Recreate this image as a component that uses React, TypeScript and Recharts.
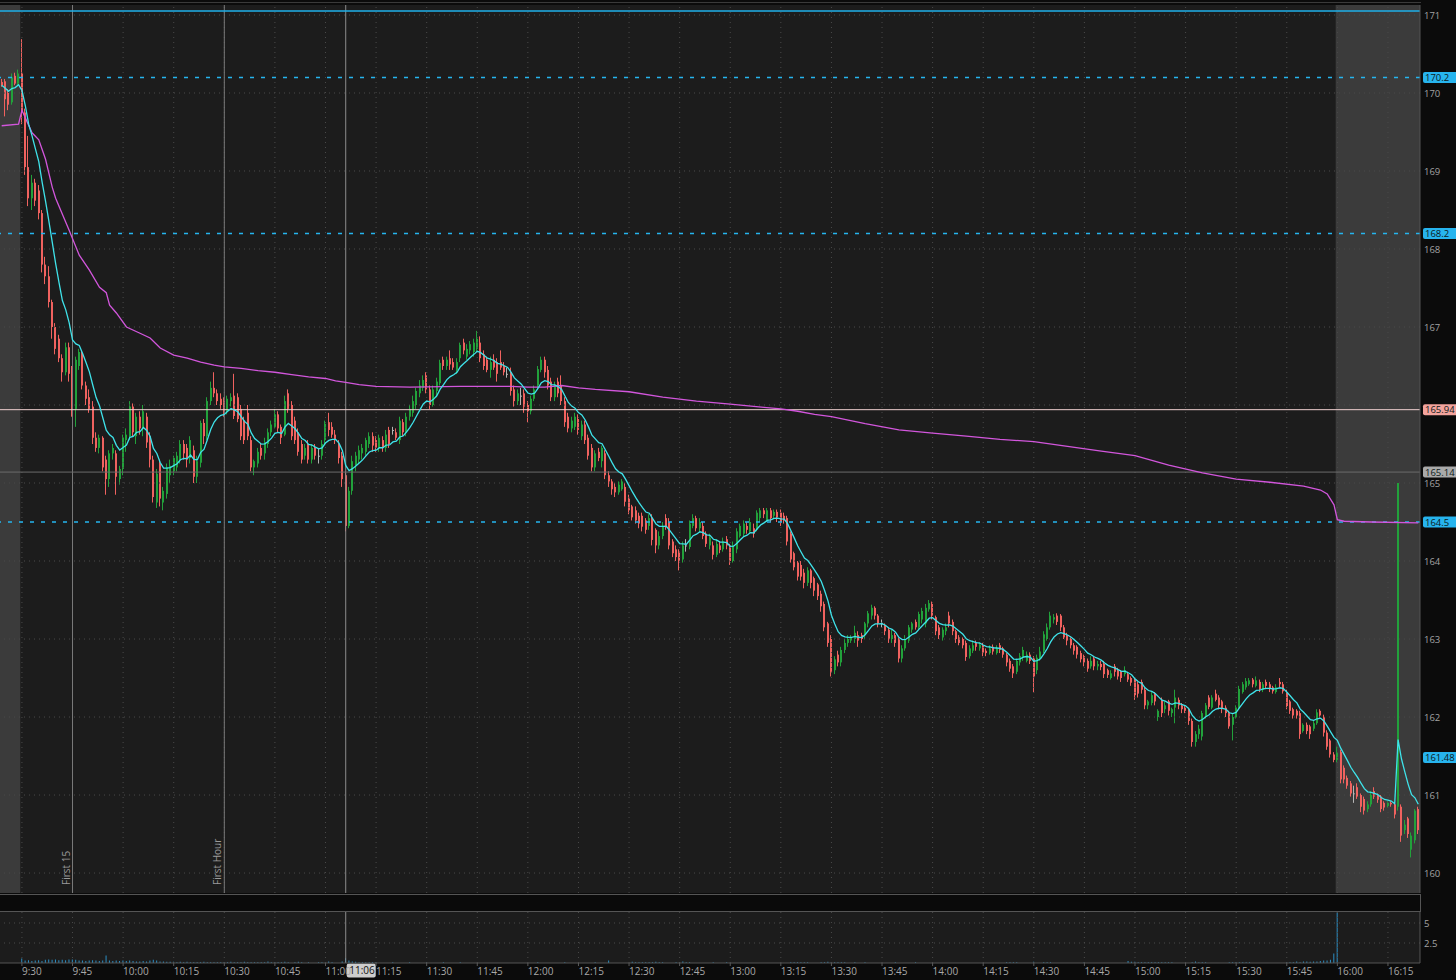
import React from 'react';
import {
  ComposedChart,
  Bar,
  Line,
  XAxis,
  YAxis,
  CartesianGrid,
  ReferenceLine,
  ReferenceArea,
} from 'recharts';

type Candle = [number, number, number, number]; // open, high, low, close

// 9:24 - 9:29 (pre-market)
const pre0924: Candle[] = [
  [170.14, 170.18, 170.08, 170.1], [170.15, 170.18, 169.7, 169.92], [170.0, 170.05, 169.78, 169.85],
  [169.88, 170.25, 169.85, 170.2], [170.22, 170.26, 170.1, 170.12], [170.12, 170.3, 170.1, 170.25],
];

// 9:30 - 10:29
const c0930: Candle[] = [
  [170.25, 170.69, 169.6, 169.75], [169.75, 169.8, 168.95, 169.05], [169.05, 169.45, 168.55, 168.65],
  [168.65, 168.95, 168.5, 168.85], [168.85, 168.9, 168.55, 168.62], [168.75, 168.82, 168.38, 168.46],
  [168.46, 168.5, 167.7, 167.8], [167.8, 167.9, 167.55, 167.65], [167.65, 167.78, 167.25, 167.32],
  [167.32, 167.35, 166.85, 167.0], [167.0, 167.05, 166.65, 166.72], [166.85, 166.9, 166.55, 166.6],
  [166.6, 166.65, 166.3, 166.42], [166.42, 166.8, 166.38, 166.74], [166.74, 166.8, 166.3, 166.4],
  [166.4, 166.5, 165.85, 165.95], [165.95, 166.62, 165.72, 166.58], [166.5, 166.72, 166.45, 166.68],
  [166.66, 166.7, 166.2, 166.25], [166.25, 166.3, 166.0, 166.08], [166.1, 166.2, 165.9, 165.95],
  [165.98, 166.05, 165.5, 165.58], [165.58, 165.65, 165.4, 165.45], [165.45, 165.62, 165.38, 165.58],
  [165.58, 165.6, 165.15, 165.2], [165.3, 165.35, 164.85, 165.05], [165.05, 165.42, 164.95, 165.38],
  [165.38, 165.5, 165.3, 165.45], [165.38, 165.42, 164.85, 165.08], [165.05, 165.22, 164.98, 165.18],
  [165.18, 165.62, 165.1, 165.58], [165.55, 165.7, 165.4, 165.62], [165.6, 166.05, 165.55, 165.98],
  [165.98, 166.02, 165.6, 165.65], [165.6, 165.9, 165.5, 165.85], [165.85, 165.92, 165.62, 165.7],
  [165.7, 166.0, 165.6, 165.92], [165.85, 165.9, 165.45, 165.52], [165.6, 165.65, 165.2, 165.3],
  [165.3, 165.35, 164.75, 164.82], [164.75, 165.18, 164.68, 165.12], [165.25, 165.3, 164.7, 164.8],
  [164.75, 164.95, 164.65, 164.9], [164.86, 165.25, 164.8, 165.2], [165.1, 165.3, 165.0, 165.22],
  [165.15, 165.35, 165.1, 165.32], [165.2, 165.4, 165.15, 165.35], [165.3, 165.55, 165.25, 165.5],
  [165.5, 165.55, 165.3, 165.38], [165.45, 165.5, 165.2, 165.3], [165.32, 165.6, 165.25, 165.55],
  [165.42, 165.48, 165.0, 165.08], [165.08, 165.35, 165.0, 165.28], [165.26, 165.8, 165.2, 165.77],
  [165.77, 165.82, 165.5, 165.6], [165.6, 166.1, 165.55, 166.05], [166.05, 166.3, 166.0, 166.22],
  [166.22, 166.42, 166.1, 166.15], [166.15, 166.2, 166.0, 166.05], [166.08, 166.15, 165.95, 166.0],
];

// 10:30 - 11:29
const c1030: Candle[] = [
  [166.05, 166.1, 165.85, 165.92], [165.92, 166.12, 165.88, 166.08], [166.05, 166.15, 165.98, 166.1],
  [166.12, 166.4, 165.82, 165.86], [166.1, 166.15, 165.78, 165.82], [165.95, 166.0, 165.55, 165.6],
  [165.8, 165.85, 165.5, 165.55], [165.9, 166.0, 165.55, 165.6], [165.55, 165.6, 165.15, 165.2],
  [165.2, 165.3, 165.1, 165.28], [165.25, 165.45, 165.2, 165.4], [165.45, 165.5, 165.3, 165.35],
  [165.38, 165.58, 165.3, 165.52], [165.5, 165.7, 165.45, 165.65], [165.65, 165.8, 165.6, 165.75],
  [165.72, 165.95, 165.7, 165.88], [165.88, 165.92, 165.65, 165.7], [165.72, 165.75, 165.5, 165.58],
  [165.62, 166.12, 165.6, 166.05], [166.15, 166.2, 165.9, 165.95], [166.0, 166.05, 165.55, 165.6],
  [165.8, 165.85, 165.5, 165.55], [165.65, 165.7, 165.35, 165.4], [165.5, 165.55, 165.25, 165.3],
  [165.35, 165.5, 165.3, 165.45], [165.5, 165.55, 165.25, 165.3], [165.3, 165.5, 165.25, 165.45],
  [165.45, 165.5, 165.3, 165.35], [165.35, 165.45, 165.25, 165.35], [165.35, 165.55, 165.3, 165.5],
  [165.55, 165.8, 165.5, 165.76], [165.78, 165.9, 165.6, 165.68], [165.72, 165.78, 165.58, 165.62],
  [165.62, 165.68, 165.5, 165.55], [165.5, 165.55, 165.25, 165.32], [165.35, 165.4, 164.95, 165.05],
  [165.1, 165.15, 164.38, 164.45], [164.45, 164.95, 164.42, 164.9], [164.9, 165.35, 164.85, 165.28],
  [165.22, 165.4, 165.15, 165.35], [165.3, 165.48, 165.25, 165.42], [165.38, 165.5, 165.3, 165.45],
  [165.4, 165.58, 165.35, 165.55], [165.5, 165.65, 165.45, 165.6], [165.6, 165.65, 165.4, 165.48],
  [165.55, 165.6, 165.4, 165.45], [165.45, 165.62, 165.4, 165.58], [165.55, 165.6, 165.4, 165.45],
  [165.45, 165.68, 165.4, 165.62], [165.68, 165.72, 165.45, 165.5], [165.68, 165.72, 165.62, 165.68],
  [165.65, 165.7, 165.55, 165.58], [165.55, 165.85, 165.5, 165.8], [165.78, 165.82, 165.6, 165.65],
  [165.65, 165.9, 165.6, 165.85], [165.85, 166.0, 165.8, 165.95], [165.9, 166.12, 165.85, 166.05],
  [166.0, 166.22, 165.95, 166.18], [166.15, 166.32, 166.1, 166.25], [166.22, 166.38, 166.18, 166.32],
];

// 11:30 - 12:29
const c1130: Candle[] = [
  [166.38, 166.42, 166.15, 166.2], [166.2, 166.25, 165.95, 166.0], [166.0, 166.25, 165.98, 166.2],
  [166.18, 166.35, 166.1, 166.3], [166.28, 166.58, 166.25, 166.54], [166.58, 166.62, 166.45, 166.5],
  [166.5, 166.62, 166.45, 166.58], [166.6, 166.7, 166.45, 166.52], [166.55, 166.6, 166.45, 166.48],
  [166.45, 166.6, 166.4, 166.55], [166.6, 166.8, 166.55, 166.77], [166.8, 166.85, 166.65, 166.7],
  [166.62, 166.78, 166.58, 166.72], [166.7, 166.82, 166.65, 166.78], [166.68, 166.85, 166.62, 166.8],
  [166.72, 166.95, 166.68, 166.85], [166.8, 166.88, 166.55, 166.6], [166.65, 166.7, 166.45, 166.5],
  [166.58, 166.62, 166.42, 166.45], [166.45, 166.62, 166.35, 166.55], [166.58, 166.65, 166.45, 166.48],
  [166.55, 166.6, 166.3, 166.4], [166.55, 166.7, 166.45, 166.48], [166.5, 166.55, 166.38, 166.42],
  [166.4, 166.48, 166.35, 166.4], [166.42, 166.48, 166.12, 166.18], [166.2, 166.25, 165.98, 166.05],
  [166.05, 166.2, 166.0, 166.15], [166.12, 166.22, 166.0, 166.12], [166.15, 166.2, 165.9, 165.98],
  [166.0, 166.05, 165.78, 165.92], [165.92, 166.12, 165.88, 166.08], [166.08, 166.25, 166.05, 166.2],
  [166.25, 166.5, 166.2, 166.46], [166.45, 166.62, 166.42, 166.58], [166.58, 166.62, 166.35, 166.42],
  [166.45, 166.5, 166.2, 166.25], [166.3, 166.35, 166.05, 166.1], [166.1, 166.3, 166.05, 166.25],
  [166.3, 166.35, 166.1, 166.15], [166.25, 166.38, 166.0, 166.05], [166.05, 166.1, 165.72, 165.78],
  [165.85, 165.9, 165.65, 165.7], [165.7, 165.85, 165.65, 165.8], [165.72, 165.9, 165.68, 165.85],
  [165.82, 165.88, 165.62, 165.68], [165.6, 165.8, 165.55, 165.75], [165.75, 165.8, 165.5, 165.55],
  [165.58, 165.62, 165.3, 165.35], [165.45, 165.5, 165.15, 165.2], [165.2, 165.42, 165.15, 165.38],
  [165.4, 165.45, 165.28, 165.32], [165.28, 165.48, 165.2, 165.45], [165.38, 165.42, 165.05, 165.1],
  [165.1, 165.15, 164.95, 165.02], [165.02, 165.05, 164.85, 164.92], [164.95, 165.0, 164.82, 164.88],
  [164.88, 165.02, 164.85, 164.98], [164.92, 165.05, 164.9, 165.02], [164.95, 165.0, 164.7, 164.76],
];

// 12:30 - 13:29
const c1230: Candle[] = [
  [164.8, 164.85, 164.6, 164.65], [164.7, 164.72, 164.52, 164.56], [164.65, 164.7, 164.48, 164.52],
  [164.58, 164.62, 164.42, 164.48], [164.58, 164.62, 164.38, 164.44], [164.52, 164.55, 164.35, 164.4],
  [164.45, 164.6, 164.4, 164.55], [164.55, 164.6, 164.2, 164.27], [164.4, 164.42, 164.1, 164.2],
  [164.2, 164.38, 164.15, 164.32], [164.32, 164.5, 164.28, 164.45], [164.55, 164.6, 164.4, 164.45],
  [164.5, 164.55, 164.15, 164.2], [164.25, 164.28, 164.05, 164.1], [164.15, 164.2, 164.0, 164.05],
  [164.12, 164.15, 163.88, 164.0], [164.02, 164.25, 163.98, 164.2], [164.2, 164.28, 164.12, 164.2],
  [164.18, 164.52, 164.15, 164.48], [164.45, 164.6, 164.42, 164.55], [164.55, 164.58, 164.38, 164.42],
  [164.42, 164.55, 164.38, 164.5], [164.45, 164.5, 164.28, 164.32], [164.35, 164.38, 164.18, 164.22],
  [164.2, 164.35, 164.15, 164.3], [164.2, 164.25, 164.02, 164.08], [164.08, 164.28, 164.05, 164.22],
  [164.2, 164.25, 164.1, 164.14], [164.15, 164.3, 164.12, 164.25], [164.28, 164.32, 164.15, 164.2],
  [164.2, 164.22, 163.95, 164.0], [164.0, 164.25, 163.98, 164.2], [164.15, 164.42, 164.1, 164.38],
  [164.32, 164.48, 164.3, 164.45], [164.35, 164.52, 164.32, 164.48], [164.45, 164.5, 164.35, 164.4],
  [164.38, 164.55, 164.35, 164.5], [164.42, 164.48, 164.3, 164.35], [164.4, 164.65, 164.38, 164.62],
  [164.55, 164.68, 164.5, 164.65], [164.65, 164.68, 164.55, 164.6], [164.52, 164.68, 164.5, 164.65],
  [164.65, 164.68, 164.5, 164.55], [164.58, 164.66, 164.55, 164.63], [164.63, 164.66, 164.5, 164.56],
  [164.62, 164.66, 164.45, 164.5], [164.58, 164.62, 164.48, 164.52], [164.55, 164.58, 164.2, 164.25],
  [164.35, 164.38, 163.98, 164.02], [164.1, 164.12, 163.88, 163.92], [163.98, 164.0, 163.75, 163.8],
  [163.95, 164.0, 163.75, 163.8], [163.85, 163.9, 163.65, 163.72], [163.72, 163.92, 163.68, 163.88],
  [163.88, 163.9, 163.65, 163.72], [163.78, 163.8, 163.55, 163.62], [163.7, 163.72, 163.5, 163.55],
  [163.58, 163.62, 163.35, 163.42], [163.45, 163.48, 163.1, 163.15], [163.2, 163.22, 162.9, 162.95],
];

// 13:30 - 14:29
const c1330: Candle[] = [
  [163.0, 163.05, 162.52, 162.58], [162.6, 162.78, 162.55, 162.74], [162.8, 162.85, 162.65, 162.7],
  [162.7, 162.9, 162.65, 162.86], [162.86, 163.0, 162.82, 162.95], [162.95, 163.05, 162.9, 163.0],
  [162.98, 163.05, 162.95, 163.02], [163.0, 163.17, 162.95, 163.08], [163.05, 163.1, 162.9, 162.98],
  [163.05, 163.08, 162.95, 163.0], [163.05, 163.22, 163.0, 163.2], [163.2, 163.36, 163.15, 163.33],
  [163.3, 163.44, 163.25, 163.4], [163.4, 163.42, 163.25, 163.3], [163.3, 163.32, 163.15, 163.2],
  [163.2, 163.25, 163.15, 163.2], [163.18, 163.2, 163.05, 163.1], [163.12, 163.15, 162.95, 163.0],
  [163.0, 163.12, 162.95, 163.05], [163.05, 163.08, 162.9, 162.95], [163.0, 163.02, 162.7, 162.75],
  [162.75, 162.92, 162.7, 162.88], [162.88, 163.05, 162.85, 163.0], [162.98, 163.18, 162.95, 163.15],
  [163.12, 163.22, 163.08, 163.2], [163.22, 163.25, 163.12, 163.15], [163.15, 163.35, 163.12, 163.32],
  [163.25, 163.4, 163.2, 163.36], [163.2, 163.45, 163.15, 163.4], [163.38, 163.5, 163.35, 163.46],
  [163.45, 163.48, 163.25, 163.3], [163.28, 163.3, 163.05, 163.1], [163.15, 163.18, 163.0, 163.05],
  [163.02, 163.15, 162.98, 163.12], [163.1, 163.2, 163.05, 163.15], [163.3, 163.35, 163.15, 163.2],
  [163.22, 163.25, 163.05, 163.1], [163.1, 163.12, 162.95, 163.0], [163.02, 163.05, 162.92, 162.95],
  [163.0, 163.02, 162.88, 162.92], [162.95, 162.98, 162.72, 162.77], [162.78, 162.92, 162.75, 162.88],
  [162.85, 162.98, 162.82, 162.92], [162.95, 162.98, 162.85, 162.9], [162.88, 162.96, 162.85, 162.93],
  [162.92, 162.95, 162.78, 162.82], [162.85, 162.88, 162.78, 162.82], [162.82, 162.92, 162.8, 162.88],
  [162.9, 162.93, 162.8, 162.84], [162.82, 162.92, 162.8, 162.88], [162.92, 162.95, 162.82, 162.86],
  [162.88, 162.9, 162.76, 162.8], [162.8, 162.82, 162.65, 162.7], [162.72, 162.75, 162.58, 162.62],
  [162.65, 162.68, 162.5, 162.56], [162.58, 162.75, 162.55, 162.72], [162.7, 162.82, 162.66, 162.78],
  [162.76, 162.9, 162.72, 162.86], [162.72, 162.84, 162.7, 162.8], [162.8, 162.83, 162.68, 162.72],
];

// 14:30 - 15:29
const c1430: Candle[] = [
  [162.75, 162.78, 162.32, 162.52], [162.6, 162.8, 162.55, 162.76], [162.75, 162.9, 162.72, 162.84],
  [162.85, 163.1, 162.82, 163.06], [163.0, 163.2, 162.98, 163.15], [163.15, 163.35, 163.12, 163.3],
  [163.25, 163.32, 163.2, 163.28], [163.3, 163.33, 163.18, 163.22], [163.3, 163.32, 163.1, 163.15],
  [163.15, 163.18, 163.0, 163.02], [163.05, 163.08, 162.92, 162.98], [163.0, 163.02, 162.88, 162.92],
  [162.92, 162.95, 162.8, 162.85], [162.9, 162.92, 162.75, 162.8], [162.82, 162.85, 162.7, 162.74],
  [162.78, 162.8, 162.65, 162.7], [162.72, 162.75, 162.58, 162.62], [162.65, 162.78, 162.62, 162.72],
  [162.75, 162.78, 162.6, 162.65], [162.65, 162.72, 162.6, 162.68], [162.68, 162.72, 162.6, 162.64],
  [162.68, 162.72, 162.5, 162.55], [162.6, 162.62, 162.5, 162.54], [162.5, 162.6, 162.48, 162.56],
  [162.65, 162.68, 162.52, 162.58], [162.6, 162.63, 162.48, 162.52], [162.58, 162.6, 162.45, 162.5],
  [162.55, 162.65, 162.52, 162.6], [162.55, 162.58, 162.45, 162.48], [162.5, 162.52, 162.4, 162.44],
  [162.48, 162.5, 162.22, 162.28], [162.42, 162.45, 162.25, 162.3], [162.45, 162.48, 162.3, 162.35],
  [162.35, 162.38, 162.1, 162.15], [162.15, 162.22, 162.1, 162.2], [162.18, 162.32, 162.15, 162.28],
  [162.3, 162.32, 162.15, 162.2], [162.0, 162.1, 161.95, 162.08], [162.22, 162.25, 162.0, 162.05],
  [162.1, 162.2, 162.05, 162.15], [162.2, 162.22, 162.02, 162.08], [162.05, 162.12, 162.0, 162.1],
  [162.12, 162.35, 161.92, 162.25], [162.22, 162.25, 162.1, 162.15], [162.15, 162.18, 162.05, 162.1],
  [162.12, 162.14, 162.05, 162.08], [162.1, 162.12, 161.9, 161.95], [161.95, 161.98, 161.62, 161.68],
  [161.68, 161.82, 161.62, 161.78], [161.78, 161.9, 161.72, 161.85], [161.75, 162.08, 161.7, 162.05],
  [162.0, 162.18, 161.98, 162.15], [162.25, 162.28, 162.1, 162.13], [162.12, 162.28, 162.1, 162.25],
  [162.3, 162.35, 162.2, 162.22], [162.25, 162.28, 162.1, 162.15], [162.2, 162.22, 162.05, 162.1],
  [162.12, 162.15, 162.0, 162.05], [162.05, 162.08, 161.85, 161.88], [161.9, 162.05, 161.7, 162.0],
];

// 15:30 - 16:24 (after-hours from 16:00)
const c1530: Candle[] = [
  [162.0, 162.15, 161.98, 162.12], [162.12, 162.4, 162.1, 162.36], [162.32, 162.45, 162.3, 162.42],
  [162.38, 162.5, 162.35, 162.46], [162.42, 162.5, 162.4, 162.47], [162.48, 162.5, 162.38, 162.42],
  [162.4, 162.52, 162.38, 162.47], [162.45, 162.48, 162.32, 162.36], [162.35, 162.45, 162.32, 162.42],
  [162.45, 162.48, 162.36, 162.4], [162.42, 162.45, 162.32, 162.36], [162.38, 162.4, 162.3, 162.33],
  [162.32, 162.42, 162.3, 162.38], [162.45, 162.5, 162.38, 162.42], [162.42, 162.45, 162.3, 162.33],
  [162.32, 162.35, 162.1, 162.14], [162.2, 162.22, 162.04, 162.08], [162.1, 162.12, 161.98, 162.02],
  [162.08, 162.1, 161.98, 162.02], [162.05, 162.08, 161.72, 161.78], [161.82, 161.92, 161.8, 161.9],
  [161.9, 161.93, 161.78, 161.82], [161.88, 161.9, 161.72, 161.78], [161.85, 161.96, 161.82, 161.92],
  [161.92, 162.1, 161.9, 162.06], [162.08, 162.1, 161.98, 162.02], [162.0, 162.03, 161.75, 161.8],
  [161.8, 161.83, 161.58, 161.62], [161.7, 161.72, 161.48, 161.52], [161.52, 161.55, 161.42, 161.45],
  [161.45, 161.62, 161.42, 161.55], [161.55, 161.58, 161.15, 161.2], [161.35, 161.38, 161.15, 161.2],
  [161.22, 161.25, 161.08, 161.12], [161.15, 161.18, 160.98, 161.02], [161.02, 161.12, 160.9, 161.02],
  [161.1, 161.15, 160.95, 160.98], [161.0, 161.02, 160.78, 160.85], [160.95, 160.98, 160.75, 160.8],
  [160.82, 160.92, 160.78, 160.88], [160.88, 161.05, 160.85, 161.0], [161.05, 161.1, 160.95, 160.98],
  [161.0, 161.02, 160.9, 160.94], [160.98, 161.0, 160.78, 160.82], [160.9, 160.92, 160.8, 160.84],
  [160.86, 160.92, 160.84, 160.9], [160.9, 160.92, 160.85, 160.88], [160.88, 160.9, 160.7, 160.75],
  [160.85, 165.0, 160.8, 165.0], [160.85, 160.88, 160.4, 160.48], [160.55, 160.68, 160.5, 160.62],
  [160.7, 160.72, 160.45, 160.5], [160.3, 160.52, 160.2, 160.48], [160.42, 160.82, 160.38, 160.8],
  [160.82, 160.85, 160.5, 160.55],
];

// volume per minute (same blocks as the candles)
const v0924 = [0, 0, 0, 0, 0, 0];
const v0930 = [
  0.55, 0.3, 0.35, 0.25, 0.3, 0.35, 0.25, 0.4, 0.45, 0.4, 0.45, 0.35, 0.4, 0.35, 0.45,
  0.45, 0.4, 0.3, 0.3, 0.25, 0.3, 0.35, 0.3, 0.25, 0.3, 0.95, 0.3, 0.25, 0.3, 0.25,
  0.3, 0.25, 0.3, 0.25, 0.2, 0.2, 0.25, 0.2, 0.3, 0.4, 0.3, 0.2, 0.2, 0.15, 0.15,
  0.15, 0.1, 0.15, 0.1, 0.15, 0.1, 0.1, 0.1, 0.1, 0.15, 0.1, 0.1, 0.1, 0.1, 0.1,
];
const v1030 = [
  0.1, 0.1, 0.15, 0.1, 0.1, 0.1, 0.15, 0.1, 0.1, 0.1, 0.1, 0.1, 0.1, 0.2, 0.1,
  0.1, 0.1, 0.1, 0.15, 0.1, 0, 0.1, 0.15, 0.1, 0, 0.1, 0, 0, 0.1, 0.1,
  0, 0.2, 0.1, 0, 0, 0.2, 0.6, 0.3, 0.2, 0.15, 0.1, 0.1, 0.1, 0.1, 0.1,
  0.1, 0, 0, 0, 0, 0.1, 0, 0, 0, 0, 0.1, 0, 0, 0, 0,
];
const v1130 = [
  0.1, 0, 0, 0, 0, 0.1, 0, 0, 0, 0, 0.1, 0, 0, 0, 0,
  0, 0, 0, 0, 0, 0, 0, 0, 0, 0, 0, 0, 0, 0, 0,
  0, 0, 0, 0.1, 0, 0, 0, 0, 0, 0, 0, 0.1, 0, 0, 0,
  0, 0, 0, 0, 0, 0.1, 0, 0, 0, 0.3, 0, 0, 0, 0, 0,
];
const v1230 = [
  0, 0.15, 0.1, 0.1, 0.1, 0.1, 0.1, 0.1, 0.15, 0.1, 0.1, 0, 0, 0, 0.1,
  0.1, 0.2, 0.1, 0.1, 0, 0, 0, 0, 0, 0, 0.1, 0, 0, 0, 0.1,
  0, 0, 0, 0, 0, 0, 0, 0, 0, 0, 0, 0, 0, 0, 0,
  0, 0, 0, 0.1, 0.1, 0.1, 0.1, 0.1, 0.1, 0, 0, 0, 0.1, 0.1, 0.15,
];
const v1330 = [
  0.1, 0.1, 0.1, 0.1, 0.1, 0, 0, 0.1, 0, 0, 0.1, 0, 0, 0, 0,
  0, 0, 0, 0, 0.1, 0, 0, 0, 0, 0, 0.1, 0, 0, 0, 0,
  0, 0, 0, 0, 0, 0, 0, 0, 0, 0, 0, 0, 0, 0, 0,
  0, 0, 0, 0, 0, 0, 0, 0.1, 0.1, 0.1, 0.1, 0, 0, 0, 0,
];
const v1430 = [
  0.15, 0, 0, 0.1, 0.1, 0.1, 0, 0, 0, 0, 0, 0, 0, 0, 0,
  0.1, 0, 0, 0, 0, 0, 0, 0, 0, 0, 0, 0, 0, 0.25, 0.15,
  0.15, 0.1, 0.1, 0.1, 0.1, 0.1, 0.1, 0.1, 0.1, 0.1, 0.1, 0.1, 0, 0, 0,
  0, 0, 0.1, 0.2, 0.1, 0.1, 0.1, 0, 0, 0, 0, 0, 0, 0.1, 0.1,
];
const v1530 = [
  0.1, 0.1, 0.1, 0.1, 0.1, 0, 0, 0, 0, 0, 0, 0, 0, 0, 0,
  0.1, 0.1, 0.1, 0.2, 0.1, 0.2, 0.2, 0.15, 0.2, 0.2, 0.25, 0.3, 0.3, 0.4, 1.2,
  6.3, 0, 0, 0, 0, 0, 0, 0, 0, 0, 0, 0, 0, 0, 0,
  0, 0, 0, 0, 0, 0, 0, 0, 0, 0,
];

// VWAP
const vwapKnots: [string, number][] = [
  ['9:24', 169.58], ['9:29', 169.6], ['9:30', 169.78], ['9:33', 169.49], ['9:35', 169.4],
  ['9:37', 169.15], ['9:39', 168.79], ['9:40', 168.65], ['9:44', 168.24], ['9:47', 167.92],
  ['9:50', 167.73], ['9:53', 167.51], ['9:55', 167.44], ['9:56', 167.28], ['9:58', 167.18],
  ['10:01', 167.0], ['10:05', 166.92], ['10:08', 166.86], ['10:11', 166.73], ['10:15', 166.64],
  ['10:19', 166.6], ['10:23', 166.55], ['10:27', 166.51], ['10:30', 166.49], ['10:35', 166.47],
  ['10:40', 166.44], ['10:45', 166.42], ['10:50', 166.39], ['10:55', 166.36], ['11:00', 166.34],
  ['11:03', 166.31], ['11:06', 166.29], ['11:10', 166.26], ['11:15', 166.24], ['11:25', 166.23],
  ['11:40', 166.24], ['11:55', 166.24], ['12:00', 166.23], ['12:05', 166.23], ['12:10', 166.25],
  ['12:15', 166.22], ['12:20', 166.2], ['12:30', 166.17], ['12:40', 166.1], ['12:50', 166.05],
  ['13:00', 166.01], ['13:10', 165.97], ['13:15', 165.95], ['13:20', 165.92], ['13:25', 165.88],
  ['13:30', 165.85], ['13:40', 165.76], ['13:50', 165.68], ['14:00', 165.64], ['14:10', 165.6],
  ['14:20', 165.56], ['14:30', 165.53], ['14:40', 165.47], ['14:50', 165.41], ['15:00', 165.35],
  ['15:10', 165.23], ['15:20', 165.13], ['15:30', 165.05], ['15:40', 165.01], ['15:50', 164.96],
  ['15:55', 164.91], ['15:57', 164.86], ['15:59', 164.72], ['16:00', 164.53], ['16:02', 164.51],
  ['16:10', 164.5], ['16:24', 164.49],
];

const priceTicks = [160, 161, 162, 163, 164, 165, 166, 167, 168, 169, 170, 171];
const timeTicks = [
  '9:30', '9:45', '10:00', '10:15', '10:30', '10:45', '11:00', '11:15', '11:30', '11:45',
  '12:00', '12:15', '12:30', '12:45', '13:00', '13:15', '13:30', '13:45', '14:00', '14:15',
  '14:30', '14:45', '15:00', '15:15', '15:30', '15:45', '16:00', '16:15',
];
const volTicks = [2.5, 5];
const dashedLevels = [170.2, 168.2, 164.5];

const FONT = '"Open Sans", "DejaVu Sans", sans-serif';
const UP = '#22a13b';
const DOWN = '#f0625f';
const DOJI = '#b5b5b5';
const CYAN_TAG = '#27b4ee';

const candles = [...pre0924, ...c0930, ...c1030, ...c1130, ...c1230, ...c1330, ...c1430, ...c1530];
const volumes = [...v0924, ...v0930, ...v1030, ...v1130, ...v1230, ...v1330, ...v1430, ...v1530];
const vwapMap = new Map(vwapKnots);

const clock = (i: number) => {
  const m = 9 * 60 + 24 + i;
  return `${Math.floor(m / 60)}:${String(m % 60).padStart(2, '0')}`;
};

// 9-period EMA of the closes (the cyan study)
const EMA_LEN = 9;
let ema = candles[0][3];
const rows = candles.map(([o, h, l, c], i) => {
  ema = i === 0 ? c : ema + ((c - ema) * 2) / (EMA_LEN + 1);
  const t = clock(i);
  return { t, o, h, l, c, ema, vwap: vwapMap.has(t) ? vwapMap.get(t) : null, v: volumes[i] ?? 0 };
});

const CandleShape = (props: any) => {
  const { x, y, width, height, payload } = props;
  if (!payload) return null;
  const { o, h, l, c } = payload;
  const top = height >= 0 ? y : y + height;
  const span = Math.abs(height);
  const py = (p: number) => top + ((h - p) / (h - l)) * span;
  const color = c > o ? UP : c < o ? DOWN : DOJI;
  const cx = Math.round(x + width / 2);
  const bTop = py(Math.max(o, c));
  const bBot = py(Math.min(o, c));
  return (
    <g>
      <rect x={cx - 1} y={top} width={1} height={span} fill={color} />
      <rect x={cx - 1} y={bTop} width={2} height={Math.max(1, bBot - bTop)} fill={color} />
    </g>
  );
};

const PriceTick = ({ x, y, payload }: any) =>
  payload.value === 166 ? (
    <g />
  ) : (
    <text x={x} y={y + 4} fill="#a3a3a3" fontSize={9.5} fontFamily={FONT}>
      {payload.value}
    </text>
  );

const VolTick = ({ x, y, payload }: any) => (
  <text x={x} y={y + 3.5} fill="#a3a3a3" fontSize={9.5} fontFamily={FONT}>
    {payload.value}
  </text>
);

const TimeTick = ({ x, y, payload }: any) => (
  <text x={x} y={y + 7} fill="#a8a8a8" fontSize={10} fontFamily={FONT} textAnchor="start">
    {payload.value}
  </text>
);

const priceTag = (text: string, bg: string) => (props: any) => {
  const vb = props.viewBox;
  const x = vb.x + vb.width;
  const y = vb.y;
  return (
    <g>
      <rect x={x + 3} y={y - 5.5} width={36} height={11} rx={2} fill={bg} />
      <text x={x + 5} y={y + 3.5} fontSize={9.5} fill="#0d1a20" fontFamily={FONT}>
        {text}
      </text>
    </g>
  );
};

const sideLabel = (text: string) => (props: any) => {
  const vb = props.viewBox;
  return (
    <text
      transform={`translate(${vb.x - 3}, ${vb.y + vb.height - 8}) rotate(-90)`}
      fontSize={10}
      fill="#9a9a9a"
      fontFamily={FONT}
    >
      {text}
    </text>
  );
};

const cursorTag = (props: any) => {
  const vb = props.viewBox;
  const y = vb.y + vb.height;
  return (
    <g>
      <rect x={vb.x + 1} y={y + 0.5} width={29} height={14} rx={2} fill="#cdcdcd" />
      <text x={vb.x + 3.5} y={y + 11} fontSize={10} fill="#111" fontFamily={FONT}>
        11:06
      </text>
    </g>
  );
};

const GRID = '#4a4a4a';

export default function App() {
  return (
    <div
      style={{
        position: 'absolute',
        left: 0,
        top: 0,
        width: 1456,
        height: 980,
        background: '#0b0b0b',
        overflow: 'hidden',
      }}
    >
      <div style={{ position: 'absolute', left: 0, top: 2, width: 1421, height: 1, background: '#3a3a3a' }} />
      <div style={{ position: 'absolute', left: 0, top: 0 }}>
        <ComposedChart
          width={1456}
          height={894}
          data={rows}
          margin={{ top: 5, right: 0, bottom: 1, left: 0 }}
          barCategoryGap={0}
        >
          <CartesianGrid horizontal={false} vertical={false} fill="#1c1c1c" />
          <XAxis dataKey="t" hide />
          <YAxis
            orientation="right"
            width={36}
            domain={[159.744, 171.128]}
            ticks={priceTicks}
            interval={0}
            allowDataOverflow
            tick={PriceTick}
            tickSize={0}
            tickMargin={4}
            tickLine={false}
            axisLine={{ stroke: '#555' }}
          />
          <ReferenceArea x1="9:24" x2="9:29" fill="#3b3b3b" fillOpacity={1} stroke="none" />
          <ReferenceArea x1="16:00" x2="16:24" fill="#3b3b3b" fillOpacity={1} stroke="none" />
          {priceTicks.map((p) => (
            <ReferenceLine key={`hp${p}`} y={p} stroke={GRID} strokeDasharray="1 4" />
          ))}
          {timeTicks.map((t) => (
            <ReferenceLine key={`vt${t}`} x={t} stroke={GRID} strokeDasharray="1 4" />
          ))}
          <ReferenceLine x="9:45" stroke="#7a7a7a" label={sideLabel('First 15')} />
          <ReferenceLine x="10:30" stroke="#7a7a7a" label={sideLabel('First Hour')} />
          <ReferenceLine x="11:06" stroke="#8c8c8c" />
          <ReferenceLine y={171.05} stroke="#1fb0ea" strokeWidth={1.5} />
          {dashedLevels.map((p) => (
            <ReferenceLine
              key={`lv${p}`}
              y={p}
              stroke="#25b5ee"
              strokeWidth={1.5}
              strokeDasharray="4 7"
              label={priceTag(String(p), CYAN_TAG)}
            />
          ))}
          <ReferenceLine y={165.94} stroke="#efcfcf" label={priceTag('165.94', '#f3a39c')} />
          <ReferenceLine y={165.14} stroke="#6c6c6c" label={priceTag('165.14', '#aaaaaa')} />
          <Bar
            dataKey={(d: any) => [d.l, d.h]}
            shape={CandleShape}
            barSize={3}
            isAnimationActive={false}
          />
          <Line
            dataKey="vwap"
            stroke="#d256dc"
            strokeWidth={1.3}
            dot={false}
            connectNulls
            type="linear"
            isAnimationActive={false}
          />
          <Line
            dataKey="ema"
            stroke="#3fe3ea"
            strokeWidth={1.3}
            dot={false}
            type="linear"
            isAnimationActive={false}
          />
          <ReferenceLine y={161.48} stroke="none" strokeOpacity={0} label={priceTag('161.48', CYAN_TAG)} />
        </ComposedChart>
      </div>
      <div style={{ position: 'absolute', left: 0, top: 895 }}>
        <ComposedChart
          width={1456}
          height={85}
          data={rows}
          margin={{ top: 17, right: 0, bottom: 0, left: 0 }}
          barCategoryGap={0}
        >
          <CartesianGrid horizontal={false} vertical={false} fill="#1c1c1c" />
          <XAxis
            dataKey="t"
            ticks={timeTicks}
            interval={0}
            height={17}
            tick={TimeTick}
            tickSize={3}
            tickLine={{ stroke: '#5a5a5a' }}
            axisLine={{ stroke: '#555' }}
          />
          <YAxis
            orientation="right"
            width={36}
            domain={[0, 6.375]}
            ticks={volTicks}
            interval={0}
            allowDataOverflow
            tick={VolTick}
            tickSize={0}
            tickMargin={4}
            tickLine={false}
            axisLine={{ stroke: '#555' }}
          />
          {volTicks.map((p) => (
            <ReferenceLine key={`hv${p}`} y={p} stroke={GRID} strokeDasharray="1 4" />
          ))}
          {timeTicks.map((t) => (
            <ReferenceLine key={`vv${t}`} x={t} stroke={GRID} strokeDasharray="1 4" />
          ))}
          <Bar dataKey="v" fill="#2b8fc4" barSize={1} isAnimationActive={false} />
          <ReferenceLine x="11:06" stroke="#8c8c8c" label={cursorTag} />
        </ComposedChart>
      </div>
      <div
        style={{
          position: 'absolute',
          left: 0,
          top: 894,
          width: 1420,
          height: 16,
          background: '#0a0a0a',
          borderTop: '1px solid #555',
          borderBottom: '1px solid #555',
          borderRight: '1px solid #555',
        }}
      />
    </div>
  );
}
